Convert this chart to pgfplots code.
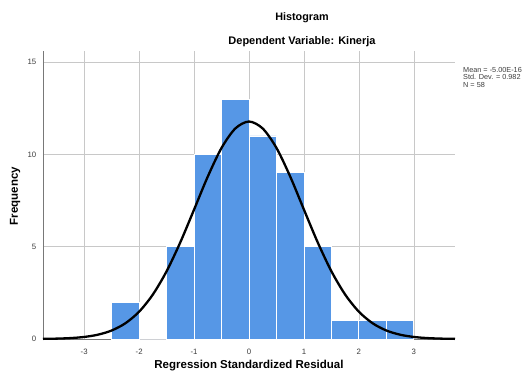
\documentclass[border=0pt]{standalone}
\usepackage{pgfplots}
\pgfplotsset{compat=1.18}
\usepackage{fontspec}
\setmainfont{Liberation Sans}
\definecolor{barblue}{RGB}{86,151,230}
\definecolor{gridgray}{RGB}{200,200,200}
\definecolor{axgray}{RGB}{120,120,120}
\definecolor{ticktext}{RGB}{60,60,60}
\begin{document}
\begin{tikzpicture}[x=1pt,y=1pt]
\begin{axis}[
  at={(0,0)}, anchor=south west,
  scale only axis,
  width=412pt, height=288pt,
  xmin=-3.75, xmax=3.75,
  ymin=0, ymax=15.6,
  axis lines=left,
  axis line style={-, axgray, line width=0.8pt},
  xtick={-3,-2,-1,0,1,2,3},
  ytick={0,5,10,15},
  grid=major,
  major grid style={gridgray, line width=0.6pt},
  tick style={draw=none},
  /pgf/number format/assume math mode=true,
  ticklabel style={font=\fontsize{7.8}{8}\selectfont, text=ticktext},
  xticklabel style={yshift=-4pt},
  yticklabel style={xshift=-1pt},
  clip=false,
]
\addplot[ybar interval, fill=barblue, draw=white, line width=0.8pt] coordinates {
  (-2.5,2) (-2,0) (-1.5,5) (-1,10) (-0.5,13) (0,11) (0.5,9) (1,5) (1.5,1) (2,1) (2.5,1) (3,1)
};
\addplot[black, line width=2.3pt, smooth, no marks] coordinates {
  (-3.75,0.008) (-3.5,0.0205) (-3.25,0.0493) (-3,0.111) (-2.75,0.233) (-2.5,0.461)
  (-2.25,0.853) (-2,1.48) (-1.75,2.41) (-1.5,3.67) (-1.25,5.24) (-1,7.01)
  (-0.75,8.80) (-0.5,10.35) (-0.25,11.40) (0,11.78) (0.25,11.40) (0.5,10.35)
  (0.75,8.80) (1,7.01) (1.25,5.24) (1.5,3.67) (1.75,2.41) (2,1.48)
  (2.25,0.853) (2.5,0.461) (2.75,0.233) (3,0.111) (3.25,0.0493) (3.5,0.0205) (3.75,0.008)
};
\end{axis}
\node[font=\fontsize{10.8}{12}\selectfont\bfseries] at (259,321) {Histogram};
\node[font=\fontsize{11}{13}\selectfont\bfseries] at (259,297) {Dependent Variable: Kinerja};
\node[font=\fontsize{11.5}{13}\selectfont\bfseries, rotate=90] at (-28,143) {Frequency};
\node[font=\fontsize{11.5}{13}\selectfont\bfseries] at (206,-27) {Regression Standardized Residual};
\node[font=\fontsize{7.3}{7.6}\selectfont, align=left, anchor=north west, inner sep=0pt, text=ticktext] at (420,272) {Mean = -5.00E-16\\Std. Dev. = 0.982\\N = 58};
\pgfresetboundingbox
\path[use as bounding box] (-43,-37) rectangle (485,339);
\end{tikzpicture}
\end{document}
